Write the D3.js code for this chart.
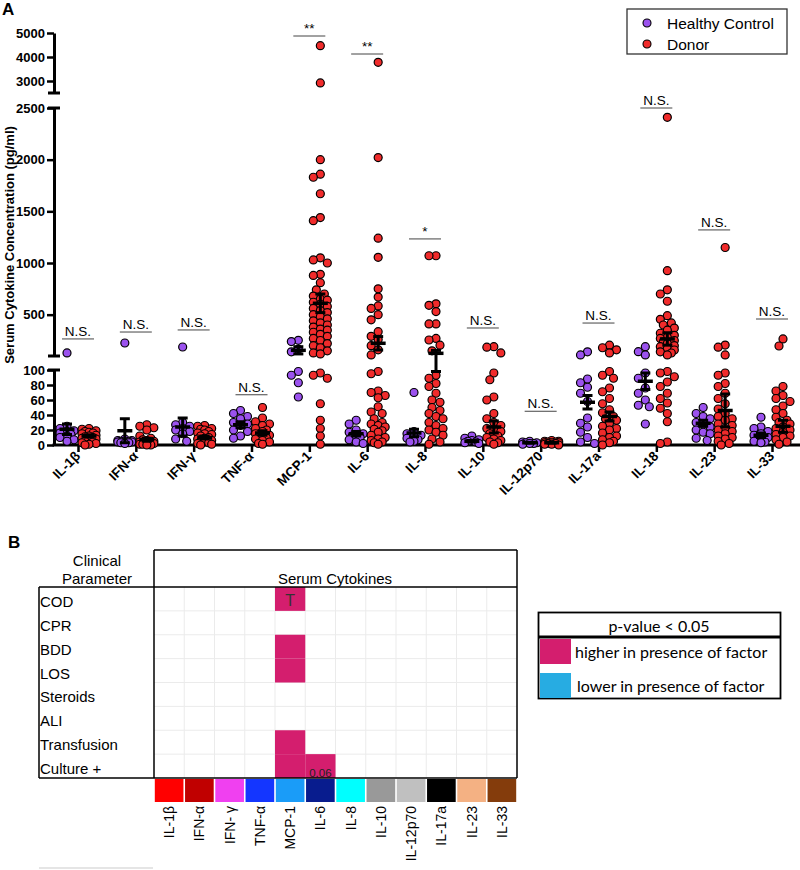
<!DOCTYPE html>
<html><head><meta charset="utf-8">
<script src="https://cdn.jsdelivr.net/npm/d3@7"></script>
<style>body{margin:0;background:#fff} svg{display:block}</style>
</head><body>
<svg id="c" width="800" height="870"></svg>
<script>
// ---------------- Panel A data ----------------
const cytokines = ["IL-1β","IFN-α","IFN-γ","TNF-α","MCP-1","IL-6","IL-8","IL-10","IL-12p70","IL-17a","IL-18","IL-23","IL-33"];
const healthyControl = [
  [130, 25, 22, 19, 18, 16, 14, 12, 10, 7, 5],
  [226, 8, 6, 5, 4, 4, 3, 3, 2, 5, 6, 4],
  [187, 30, 27, 25, 22, 20, 18, 15, 8, 5],
  [46, 42, 38, 35, 30, 28, 26, 20, 18, 12, 9],
  [252, 240, 165, 140, 98, 93, 83, 64],
  [33, 28, 20, 17, 15, 13, 12, 10, 7, 4, 2],
  [70, 18, 15, 13, 11, 9, 7, 5, 4],
  [12, 9, 7, 5, 4, 3, 2, 6],
  [5, 4, 3, 3, 2, 2, 1],
  [140, 110, 88, 83, 77, 69, 58, 36, 29, 24, 17, 10, 4, 2],
  [190, 142, 110, 96, 89, 76, 69, 60, 53, 51, 28],
  [50, 42, 38, 35, 30, 28, 24, 20, 17, 15, 9, 6],
  [37, 24, 22, 18, 15, 13, 10, 8, 5, 4, 3]
];
const donor = [
  [22, 21, 19, 18, 16, 15, 13, 12, 11, 10, 9, 8, 6, 5, 4, 3, 2, 1, 0, 17],
  [27, 25, 23, 20, 12, 9, 7, 5, 4, 3, 2, 1, 0, 6, 3, 2, 1, 0],
  [26, 25, 22, 20, 18, 16, 14, 12, 10, 8, 6, 5, 4, 3, 2, 1, 0, 21, 15, 9],
  [50, 36, 31, 28, 26, 22, 20, 18, 15, 13, 12, 10, 9, 8, 6, 4, 2, 1],
  [4470, 2920, 2000, 1860, 1830, 1670, 1440, 1410, 1050, 1030, 1000, 890, 880, 810, 740, 700, 680, 650, 640, 620, 600, 580, 560, 540, 520, 500, 480, 460, 440, 420, 400, 380, 360, 350, 330, 310, 290, 270, 250, 220, 200, 180, 150, 130, 120, 96, 93, 89, 55, 33, 22, 12, 1],
  [3780, 2020, 1240, 1055, 750, 670, 585, 560, 500, 450, 335, 290, 260, 200, 160, 110, 98, 95, 72, 70, 66, 63, 51, 44, 42, 35, 30, 26, 24, 21, 17, 13, 8, 4, 1, 28, 19, 10, 6, 3],
  [1070, 1070, 605, 590, 530, 410, 410, 270, 255, 205, 150, 93, 89, 82, 78, 69, 60, 57, 46, 42, 35, 30, 26, 22, 17, 13, 8, 4, 1, 50, 38, 20],
  [190, 185, 130, 96, 87, 64, 60, 42, 35, 26, 20, 15, 12, 8, 4, 1, 30, 22, 18, 10, 6, 3],
  [6, 5, 4, 4, 3, 3, 2, 2, 1, 1, 0, 5, 3],
  [205, 180, 160, 130, 98, 93, 89, 76, 71, 62, 55, 47, 43, 38, 33, 29, 25, 20, 16, 12, 7, 3, 0, 35, 22, 10, 5],
  [2410, 926, 740, 700, 630, 490, 455, 420, 400, 370, 350, 320, 300, 280, 270, 250, 238, 220, 200, 190, 170, 158, 140, 129, 110, 98, 96, 91, 84, 78, 69, 62, 56, 49, 42, 31, 4, 2],
  [1150, 206, 185, 110, 96, 93, 82, 78, 69, 62, 55, 48, 42, 38, 33, 28, 26, 22, 18, 15, 12, 8, 5, 2, 0, 35, 20, 10],
  [265, 197, 78, 72, 66, 62, 58, 52, 47, 42, 37, 33, 28, 24, 20, 17, 14, 10, 7, 4, 1, 30, 22, 12]
];
const hcMean    = [21, 19, 24, 27, 155, 15, 16, 5, 3, 57, 85, 29, 13];
const hcSem     = [7, 16, 12, 4, 35, 3, 5, 1, 0.5, 9, 11, 4, 3];
const donorMean = [12, 7, 10, 16, 610, 223, 126, 24, 3, 38, 265, 46, 25];
const donorSem  = [1.5, 2, 2, 3, 90, 65, 28, 8, 0.5, 6, 60, 22, 8];
const sigText  = ["N.S.","N.S.","N.S.","N.S.","**","**","*","N.S.","N.S.","N.S.","N.S.","N.S.","N.S."];
const sigLevel = [265, 332, 352, 67, 4875, 4125, 1233, 371, 45, 419, 2500, 1320, 458];
const topTicks = [3000, 4000, 5000];
const midTicks = [500, 1000, 1500, 2000, 2500];
const botTicks = [0, 20, 40, 60, 80, 100];
const seriesNames = ["Healthy Control", "Donor"];
const seriesColors = ["#9b52ee", "#f02b2b"];

// ---------------- Panel B data ----------------
const clinicalParams = ["COD","CPR","BDD","LOS","Steroids","ALI","Transfusion","Culture +"];
const panelCytokines = ["IL-1β","IFN-α","IFN- γ","TNF-α","MCP-1","IL-6","IL-8","IL-10","IL-12p70","IL-17a","IL-23","IL-33"];
const cytokineColors = ["#ff0000","#c00000","#f040f0","#1436ff","#1a9cf8","#081c8e","#00ffff","#999999","#c0c0c0","#000000","#f4b183","#843c0c"];
const cellRow  = [0, 2, 3, 6, 7, 7];
const cellCol  = [4, 4, 4, 4, 4, 5];
const cellDir  = ["higher","higher","higher","higher","higher","higher"];
const cellText = ["T", "", "", "", "", "0.06"];
const keyLabels = ["higher in presence of factor", "lower in presence of factor"];
const keyColors = ["#d41e6e", "#27ace2"];

// ---------------- Drawing ----------------
const svg = d3.select("#c");
const ARIAL = "'Liberation Sans', Arial, sans-serif";

const yTop = d3.scaleLinear([2500, 5000], [93, 33]);
const yMid = d3.scaleLinear([100, 2500], [356, 108]);
const yBot = d3.scaleLinear([0, 100], [445, 370]);
const y = v => v <= 100 ? yBot(v) : (v <= 2500 ? yMid(v) : yTop(v));
const x = d3.scalePoint(cytokines, [78, 772]);
const off = d3.scalePoint(seriesNames, [-11, 11]);

const A = svg.append("g");
A.append("text").attr("x", 2).attr("y", 15).attr("font-family", ARIAL).attr("font-weight", "bold").attr("font-size", 17).text("A");

// y axes
function drawAxis(scale, ticks) {
  const g = A.append("g").attr("transform", "translate(54,0)")
    .call(d3.axisLeft(scale).tickValues(ticks).tickFormat(d3.format("d")).tickSize(7).tickSizeOuter(0).tickPadding(2));
  g.select(".domain").attr("stroke-width", 3);
  g.selectAll(".tick line").attr("stroke-width", 2.5);
  g.selectAll(".tick text").attr("font-family", ARIAL).attr("font-weight", "bold").attr("font-size", 13).attr("fill", "#000");
  return g;
}
drawAxis(yTop, topTicks);
drawAxis(yMid, midTicks);
drawAxis(yBot, botTicks);
// break caps
[[yTop, 2500], [yMid, 2500], [yMid, 100], [yBot, 100]].forEach(([s, v]) => {
  A.append("line").attr("x1", 48).attr("x2", 60).attr("y1", s(v)).attr("y2", s(v)).attr("stroke", "#000").attr("stroke-width", 3);
});
A.append("text").attr("transform", `translate(14,${(yTop(5000)+yBot(0))/2 + 6}) rotate(-90)`)
  .attr("text-anchor", "middle").attr("font-family", ARIAL).attr("font-weight", "bold").attr("font-size", 13)
  .text("Serum Cytokine Concentration (pg/ml)");

// x axis
const xa = A.append("g").attr("transform", `translate(0,${yBot(0)})`)
  .call(d3.axisBottom(x).tickSize(7).tickSizeOuter(0).tickFormat(""));
xa.select(".domain").attr("d", `M52.5,0H800`).attr("stroke-width", 3);
xa.selectAll(".tick line").attr("stroke-width", 2.5);
A.selectAll(".xlab").data(cytokines).join("text")
  .attr("transform", d => `translate(${x(d) + 3},${yBot(0) + 12}) rotate(-45)`)
  .attr("text-anchor", "end").attr("font-family", ARIAL).attr("font-weight", "bold").attr("font-size", 13.5)
  .text(d => d);

// swarm layout
function swarm(vals, cx) {
  const pts = vals.map(v => ({ v, y: y(v) })).sort((a, b) => a.y - b.y);
  const placed = [];
  const offs = [0, -4, 4, -7, 7];
  pts.forEach(p => {
    let best = cx, bestD = -1;
    for (const o of offs) {
      const px = cx + o;
      let md = Infinity;
      for (const q of placed) { const d = Math.hypot(q.x - px, q.y - p.y); if (d < md) md = d; }
      if (md >= 7.5) { best = px; bestD = md; break; }
      if (md > bestD) { bestD = md; best = px; }
    }
    p.x = best; placed.push(p);
  });
  return pts;
}

const groups = [healthyControl, donor];
const means = [hcMean, donorMean];
const sems = [hcSem, donorSem];
cytokines.forEach((c, i) => {
  groups.forEach((grp, s) => {
    const cx = x(c) + off(seriesNames[s]);
    const pts = swarm(grp[i], cx);
    A.append("g").selectAll("circle").data(pts).join("circle")
      .attr("cx", d => d.x).attr("cy", d => d.y).attr("r", 4)
      .attr("fill", seriesColors[s]).attr("stroke", "#000").attr("stroke-width", 1.2);
  });
});
// mean +/- SEM
cytokines.forEach((c, i) => {
  groups.forEach((grp, s) => {
    const cx = x(c) + off(seriesNames[s]);
    const m = means[s][i], e = sems[s][i];
    const lo = Math.max(0, m - e), hi = m + e;
    const g = A.append("g").attr("stroke", "#000");
    g.append("line").attr("x1", cx).attr("x2", cx).attr("y1", y(lo)).attr("y2", y(hi)).attr("stroke-width", 3);
    g.append("line").attr("x1", cx - 7.5).attr("x2", cx + 7.5).attr("y1", y(m)).attr("y2", y(m)).attr("stroke-width", 3.5);
    [lo, hi].forEach(v => g.append("line").attr("x1", cx - 5).attr("x2", cx + 5).attr("y1", y(v)).attr("y2", y(v)).attr("stroke-width", 3));
  });
});
// significance
cytokines.forEach((c, i) => {
  const yy = y(sigLevel[i]);
  A.append("line").attr("x1", x(c) - 16).attr("x2", x(c) + 16).attr("y1", yy).attr("y2", yy).attr("stroke", "#444").attr("stroke-width", 1);
  A.append("text").attr("x", x(c)).attr("y", yy - 3).attr("text-anchor", "middle")
    .attr("font-family", ARIAL).attr("font-size", 13.5).text(sigText[i]);
});
// legend A
const lg = A.append("g");
lg.append("rect").attr("x", 627).attr("y", 9).attr("width", 160).attr("height", 45).attr("fill", "#fff").attr("stroke", "#333").attr("stroke-width", 1.3);
seriesNames.forEach((n, s) => {
  const yy = 23 + s * 21;
  lg.append("circle").attr("cx", 647).attr("cy", yy).attr("r", 4).attr("fill", seriesColors[s]).attr("stroke", "#000").attr("stroke-width", 1.1);
  lg.append("text").attr("x", 667).attr("y", yy + 5.5).attr("font-family", ARIAL).attr("font-size", 15.5).text(n);
});

// ---------------- Panel B ----------------
const B = svg.append("g");
B.append("text").attr("x", 8).attr("y", 548).attr("font-family", ARIAL).attr("font-weight", "bold").attr("font-size", 17).text("B");
const bx = d3.scaleBand(panelCytokines, [154, 517]);
const by = d3.scaleBand(clinicalParams, [587, 778]);
// grid
B.append("g").selectAll("line.v").data(panelCytokines.slice(1)).join("line")
  .attr("x1", d => bx(d)).attr("x2", d => bx(d)).attr("y1", 587).attr("y2", 778).attr("stroke", "#ebebeb").attr("stroke-width", 1);
B.append("g").selectAll("line.h").data(clinicalParams.slice(1)).join("line")
  .attr("x1", 154).attr("x2", 517).attr("y1", d => by(d)).attr("y2", d => by(d)).attr("stroke", "#ebebeb").attr("stroke-width", 1);
// cells
cellRow.forEach((r, k) => {
  const rx = bx(panelCytokines[cellCol[k]]), ry = by(clinicalParams[r]);
  B.append("rect").attr("x", rx).attr("y", ry).attr("width", bx.bandwidth()).attr("height", by.bandwidth())
    .attr("fill", cellDir[k] === "higher" ? keyColors[0] : keyColors[1]);
  if (cellText[k] === "T") {
    B.append("text").attr("x", rx + bx.bandwidth() / 2).attr("y", ry + by.bandwidth() / 2 + 7).attr("text-anchor", "middle")
      .attr("font-family", ARIAL).attr("font-size", 16).attr("fill", "#333").text(cellText[k]);
  } else if (cellText[k]) {
    B.append("text").attr("x", rx + bx.bandwidth() / 2).attr("y", ry + by.bandwidth() - 1).attr("text-anchor", "middle")
      .attr("font-family", ARIAL).attr("font-size", 11.5).attr("fill", "#222").text(cellText[k]);
  }
});
// borders
const bl = (x1, y1, x2, y2, w) => B.append("line").attr("x1", x1).attr("y1", y1).attr("x2", x2).attr("y2", y2).attr("stroke", "#000").attr("stroke-width", w || 1.5);
bl(154, 550, 517, 550); bl(517, 550, 517, 778); bl(39, 587, 517, 587); bl(39, 587, 39, 778);
bl(39, 778, 517, 778); bl(154, 550, 154, 778);
// header texts
B.append("text").attr("x", 97).attr("y", 566).attr("text-anchor", "middle").attr("font-family", ARIAL).attr("font-size", 15).text("Clinical");
B.append("text").attr("x", 97).attr("y", 584).attr("text-anchor", "middle").attr("font-family", ARIAL).attr("font-size", 15).text("Parameter");
B.append("text").attr("x", 335).attr("y", 584).attr("text-anchor", "middle").attr("font-family", ARIAL).attr("font-size", 15).text("Serum Cytokines");
// row labels
B.selectAll(".rl").data(clinicalParams).join("text")
  .attr("x", 40).attr("y", d => by(d) + by.bandwidth() / 2 + 8)
  .attr("font-family", ARIAL).attr("font-size", 15).text(d => d);
// colour strip
B.selectAll(".cs").data(panelCytokines).join("rect")
  .attr("x", d => bx(d) + 0.8).attr("y", 779).attr("width", bx.bandwidth() - 1.6).attr("height", 23)
  .attr("fill", (d, i) => cytokineColors[i]);
B.selectAll(".cl").data(panelCytokines).join("text")
  .attr("transform", d => `translate(${bx(d) + bx.bandwidth() / 2 + 5},806) rotate(-90)`)
  .attr("text-anchor", "end").attr("font-family", ARIAL).attr("font-size", 14).text(d => d);
// key
const LATO = "Lato, 'Open Sans', sans-serif";
const kg = B.append("g");
kg.append("rect").attr("x", 538.5).attr("y", 612.5).attr("width", 242).attr("height", 86).attr("fill", "#fff").attr("stroke", "#000").attr("stroke-width", 1.8);
kg.append("line").attr("x1", 538).attr("x2", 781).attr("y1", 637).attr("y2", 637).attr("stroke", "#000").attr("stroke-width", 3);
kg.append("text").attr("x", 659).attr("y", 632).attr("text-anchor", "middle").attr("font-family", LATO).attr("font-size", 16).text("p-value < 0.05");
keyLabels.forEach((t, k) => {
  const ky = k === 0 ? 639 : 673;
  kg.append("rect").attr("x", 540).attr("y", ky).attr("width", 31).attr("height", 25).attr("fill", keyColors[k]);
  kg.append("text").attr("x", k === 0 ? 575 : 577).attr("y", ky + 19).attr("font-family", LATO).attr("font-size", 16).text(t);
});
B.append("line").attr("x1", 39).attr("x2", 153).attr("y1", 868).attr("y2", 868).attr("stroke", "#ddd").attr("stroke-width", 1.5);
</script>
</body></html>
